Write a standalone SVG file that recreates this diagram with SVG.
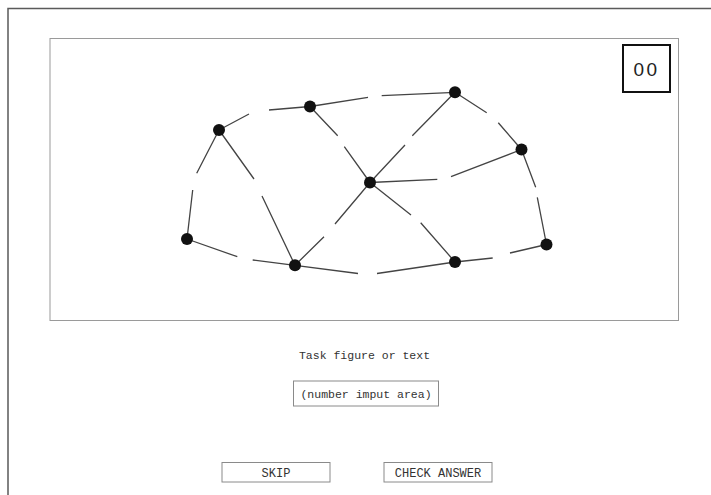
<svg xmlns="http://www.w3.org/2000/svg" width="711" height="495" viewBox="0 0 711 495">
<style>
.frame{fill:none;stroke:#5a5a5a;stroke-width:1.5}
.panel{fill:#fff;stroke:#9a9a9a;stroke-width:1}
.edge{fill:none;stroke:#444;stroke-width:1.3;stroke-linecap:butt}
.node{fill:#111}
.box{fill:#fff;stroke:#8a8a8a;stroke-width:1}
.mono{font-family:"Liberation Mono","Courier New",monospace;fill:#333;text-anchor:middle}
</style>
<rect width="711" height="495" fill="#fff"/>
<path class="frame" d="M8,495 L8,8.5 L711,8.5"/>
<rect id="panel" class="panel" x="50" y="38.5" width="628.5" height="282"/>
<g id="timer">
<rect x="623" y="45" width="47" height="47" fill="#fff" stroke="#111" stroke-width="2"/>
<text x="646.5" y="75.5" font-family="'Liberation Sans',Arial,sans-serif" font-size="19" letter-spacing="2.5" text-anchor="middle" fill="#222">00</text>
</g>
<g id="connectors">
<path class="edge" d="M219,130 L249,114 M269,110 L310,106.5"/>
<path class="edge" d="M310,106.5 L368,97.3 M381.7,95.7 L455,92.3"/>
<path class="edge" d="M310,106.5 L337.7,135.7 M344.3,146.7 L370,182.5"/>
<path class="edge" d="M219,130 L254,179 M262,196 L295,265.3"/>
<path class="edge" d="M219,130 L196.7,173.3 M192.7,190 L187,239"/>
<path class="edge" d="M187,239 L237.3,256.7 M252.7,260 L295,265.3"/>
<path class="edge" d="M295,265.3 L324,236.7 M335,224 L370,182.5"/>
<path class="edge" d="M295,265.3 L358,273.5 M377,273.5 L455,262"/>
<path class="edge" d="M370,182.5 L405,145 M412.3,135.7 L455,92.3"/>
<path class="edge" d="M370,182.5 L437.3,179.3 M451,176.7 L521.5,149.5"/>
<path class="edge" d="M370,182.5 L411,215 M420.7,222.7 L455,262"/>
<path class="edge" d="M455,92.3 L486.7,112.7 M498.3,122.7 L521.5,149.5"/>
<path class="edge" d="M521.5,149.5 L535.7,187.3 M537.3,197.3 L546.5,244.5"/>
<path class="edge" d="M455,262 L492.7,258 M510,253 L546.5,244.5"/>
</g>
<g id="nA"><circle class="node" cx="219" cy="130" r="6"/></g>
<g id="nB"><circle class="node" cx="310" cy="106.5" r="6"/></g>
<g id="nC"><circle class="node" cx="455" cy="92.3" r="6"/></g>
<g id="nD"><circle class="node" cx="521.5" cy="149.5" r="6"/></g>
<g id="nE"><circle class="node" cx="370" cy="182.5" r="6"/></g>
<g id="nF"><circle class="node" cx="187" cy="239" r="6"/></g>
<g id="nG"><circle class="node" cx="295" cy="265.3" r="6"/></g>
<g id="nH"><circle class="node" cx="455" cy="262" r="6"/></g>
<g id="nI"><circle class="node" cx="546.5" cy="244.5" r="6"/></g>
<g id="task"><text class="mono" x="364.5" y="359" font-size="11.5">Task figure or text</text></g>
<g id="input">
<rect class="box" x="293.5" y="381" width="145" height="25"/>
<text class="mono" x="366" y="397.5" font-size="11.5">(number imput area)</text>
</g>
<g id="skip">
<rect class="box" x="222" y="462.5" width="108" height="19.5"/>
<text class="mono" x="276" y="476.5" font-size="12">SKIP</text>
</g>
<g id="check">
<rect class="box" x="384" y="462.5" width="108" height="19.5"/>
<text class="mono" x="438" y="476.5" font-size="12">CHECK ANSWER</text>
</g>
</svg>
